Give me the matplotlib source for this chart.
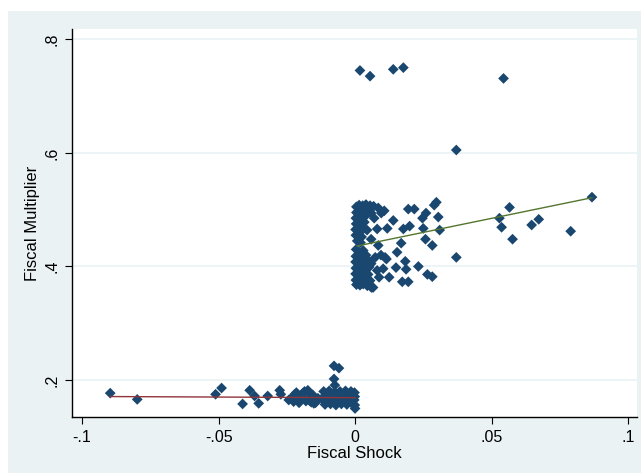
import matplotlib
matplotlib.use("Agg")

import matplotlib.pyplot as plt
from matplotlib.patches import Rectangle

# ---- data ----
# positive shocks: outliers and spread
pos_x = [0.0018, 0.0055, 0.0140, 0.0177, 0.0544, 0.0371,
         0.0868, 0.0566, 0.0529, 0.0537, 0.0577, 0.0647, 0.0673, 0.0790, 0.0371,
         0.0298, 0.0290, 0.0305, 0.0310, 0.0260, 0.0247, 0.0250, 0.0195, 0.0217,
         0.0200, 0.0177, 0.0258, 0.0283, 0.0169, 0.0154, 0.0110, 0.0184, 0.0187,
         0.0232, 0.0265, 0.0283, 0.0173, 0.0195, 0.0150, 0.0125, 0.0088, 0.0140,
         0.0118, 0.0081, 0.0096, 0.0085, 0.0107, 0.0059, 0.0070, 0.0044, 0.0059,
         0.0085, 0.0074, 0.0059, 0.0081, 0.0103, 0.0066, 0.0055, 0.0115, 0.0095]
pos_y = [0.745, 0.735, 0.747, 0.750, 0.731, 0.605,
         0.522, 0.504, 0.485, 0.469, 0.448, 0.473, 0.483, 0.462, 0.416,
         0.513, 0.508, 0.487, 0.464, 0.494, 0.485, 0.467, 0.501, 0.501,
         0.471, 0.466, 0.448, 0.437, 0.441, 0.425, 0.416, 0.409, 0.395,
         0.400, 0.386, 0.382, 0.373, 0.373, 0.398, 0.381, 0.381, 0.481,
         0.467, 0.466, 0.494, 0.503, 0.498, 0.494, 0.485, 0.464, 0.448,
         0.437, 0.416, 0.405, 0.393, 0.396, 0.363, 0.375, 0.413, 0.420]

# dense block just right of zero
dense_pos_x = [0.0005, 0.0015, 0.0028, 0.0040, 0.0055, 0.0068,
               0.0005, 0.0015, 0.0025, 0.0038, 0.0052,
               0.0003, 0.0014, 0.0026, 0.0036,
               0.0004, 0.0013, 0.0024, 0.0034,
               0.0002, 0.0012, 0.0022, 0.0032,
               0.0003, 0.0013, 0.0024, 0.0008, 0.0020,
               0.0004, 0.0015, 0.0030,
               0.0003, 0.0014, 0.0026, 0.0040,
               0.0002, 0.0012, 0.0024, 0.0036, 0.0050,
               0.0003, 0.0013, 0.0025, 0.0038, 0.0052,
               0.0002, 0.0012, 0.0023, 0.0035, 0.0048,
               0.0003, 0.0013, 0.0025, 0.0037, 0.0050,
               0.0005, 0.0018, 0.0030, 0.0045, 0.0060]
dense_pos_y = [0.505, 0.508, 0.507, 0.509, 0.507, 0.506,
               0.495, 0.498, 0.496, 0.499, 0.498,
               0.485, 0.487, 0.484, 0.488,
               0.475, 0.477, 0.474, 0.478,
               0.465, 0.466, 0.463, 0.467,
               0.455, 0.457, 0.452, 0.445, 0.442,
               0.430, 0.425, 0.428,
               0.418, 0.415, 0.417, 0.420,
               0.408, 0.405, 0.407, 0.404, 0.410,
               0.397, 0.395, 0.398, 0.394, 0.399,
               0.387, 0.385, 0.388, 0.384, 0.386,
               0.376, 0.374, 0.377, 0.373, 0.376,
               0.368, 0.367, 0.369, 0.366, 0.363]

# negative shocks
neg_x = [-0.0897, -0.0798, -0.0511, -0.0489, -0.0412, -0.0386, -0.0368, -0.0353,
         -0.0320, -0.0276, -0.0272, -0.0243, -0.0221, -0.0206, -0.0191, -0.0173,
         -0.0165, -0.0151, -0.0136, -0.0077, -0.0059, -0.0077, -0.0074,
         -0.0230, -0.0215, -0.0200, -0.0185, -0.0170, -0.0155, -0.0140,
         -0.0225, -0.0205, -0.0180, -0.0160, -0.0145,
         -0.0115, -0.0095, -0.0075, -0.0055, -0.0035, -0.0015, -0.0002,
         -0.0112, -0.0092, -0.0072, -0.0052, -0.0032, -0.0012, -0.0001,
         -0.0118, -0.0098, -0.0078, -0.0058, -0.0038, -0.0018, -0.0003,
         -0.0110, -0.0090, -0.0070, -0.0050, -0.0030, -0.0010, -0.0001,
         0.0000]
neg_y = [0.177, 0.166, 0.175, 0.186, 0.158, 0.182, 0.172, 0.159,
         0.172, 0.182, 0.175, 0.165, 0.175, 0.166, 0.177, 0.182,
         0.163, 0.159, 0.168, 0.225, 0.221, 0.202, 0.191,
         0.170, 0.178, 0.172, 0.180, 0.168, 0.174, 0.165,
         0.162, 0.160, 0.163, 0.161, 0.160,
         0.180, 0.181, 0.179, 0.180, 0.181, 0.180, 0.178,
         0.172, 0.173, 0.171, 0.172, 0.170, 0.173, 0.171,
         0.165, 0.164, 0.166, 0.164, 0.165, 0.163, 0.165,
         0.157, 0.158, 0.156, 0.158, 0.157, 0.158, 0.156,
         0.150]

# linear fits (endpoints)
fit_neg_x = [-0.0897, 0.0]
fit_neg_y = [0.171, 0.169]
fit_pos_x = [0.0007, 0.0868]
fit_pos_y = [0.436, 0.521]

xticks = [-0.1, -0.05, 0, 0.05, 0.1]
xtick_labels = ["-.1", "-.05", "0", ".05", ".1"]
yticks = [0.2, 0.4, 0.6, 0.8]
ytick_labels = [".2", ".4", ".6", ".8"]

plt.rcParams['font.family'] = ['Liberation Sans', 'DejaVu Sans']

bg = "#eaf2f3"
navy = "#1a476f"

fig = plt.figure(figsize=(6.41, 4.73), dpi=100)
fig.patch.set_facecolor("white")
fig.patches.append(Rectangle((8 / 641, 0), 1 - 8 / 641, 1 - 11 / 473,
                             transform=fig.transFigure, facecolor=bg,
                             edgecolor="none", zorder=-10))

ax = fig.add_axes([72 / 641, 1 - 417 / 473, 565 / 641, 388 / 473])
ax.set_facecolor("white")

for v in yticks:
    ax.axhline(v, color=bg, lw=1.2, zorder=1)

ax.scatter(pos_x + dense_pos_x + neg_x, pos_y + dense_pos_y + neg_y,
           marker="D", s=30, color=navy, edgecolors="none", zorder=3)
ax.plot(fit_neg_x, fit_neg_y, color="#90353b", lw=1.0, zorder=4)
ax.plot(fit_pos_x, fit_pos_y, color="#55752f", lw=1.0, zorder=4)

ax.set_xlim(-0.1037, 0.1033)
ax.set_ylim(0.135, 0.818)

ax.set_xticks(xticks)
ax.set_xticklabels(xtick_labels)
ax.set_yticks(yticks)
ax.set_yticklabels(ytick_labels, rotation=90, va="center")
ax.tick_params(direction="out", length=5, width=0.8, labelsize=11.5, color="black", pad=4)

for s in ["top", "right"]:
    ax.spines[s].set_visible(False)
for s in ["left", "bottom"]:
    ax.spines[s].set_linewidth(1.0)
    ax.spines[s].set_color("black")

ax.set_xlabel("Fiscal Shock", fontsize=12, labelpad=1)
ax.set_ylabel("Fiscal Multiplier", fontsize=12, labelpad=3)

fig.savefig("out.png", dpi=100)
